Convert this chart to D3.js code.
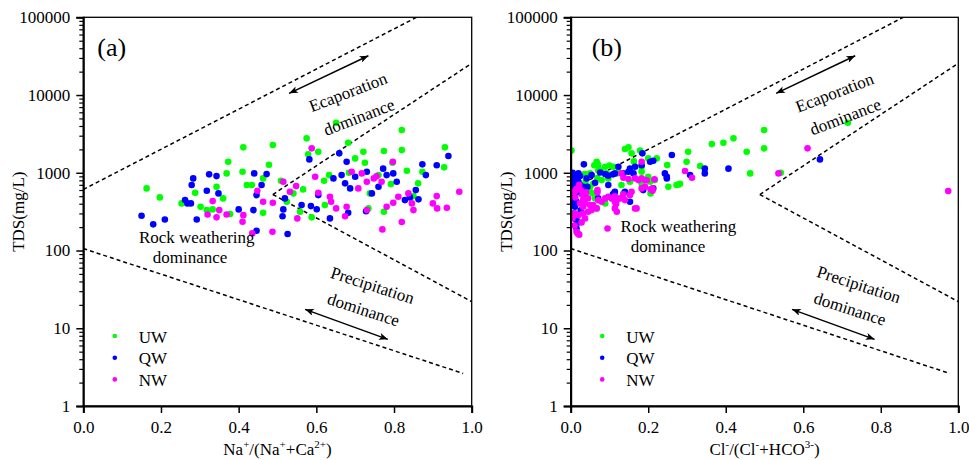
<!DOCTYPE html>
<html><head><meta charset="utf-8">
<script src="https://cdn.jsdelivr.net/npm/d3@7"></script>
<style>
body{margin:0;background:#fff;}
svg text{font-family:"Liberation Serif","Times New Roman",Times,serif;fill:#000;}
</style>
</head><body>
<svg id="chart" width="969" height="460"></svg>
<script>
// ---------- DATA ----------
const tdsTicks = [1, 10, 100, 1000, 10000, 100000];
const ratioTicks = [0, 0.2, 0.4, 0.6, 0.8, 1.0];
const seriesNames = ["UW", "QW", "NW"];
const seriesColors = ["#00ff00", "#0000ff", "#ff00ff"];

// Panel (a): [Na+/(Na++Ca2+), TDS mg/L]
const naUW = [[0.163,630],[0.197,482],[0.253,404],[0.288,553],[0.302,365],[0.318,331],[0.369,982],[0.373,1385],[0.360,468],[0.343,660],[0.333,338],[0.412,2123],[0.410,1030],[0.421,695],[0.378,294],[0.488,2273],[0.575,2773],[0.579,1725],[0.605,1864],[0.651,4400],[0.682,2432],[0.700,1532],[0.721,1864],[0.774,1903],[0.820,3545],[0.820,1959],[0.931,2123],
 [0.478,1268],[0.509,789],[0.541,543],[0.566,611],[0.620,789],[0.633,934],[0.684,1000],[0.725,1345],[0.738,543],[0.760,934],[0.774,315],[0.792,715],[0.796,1345],[0.833,1061],[0.850,501],[0.862,731],[0.873,1030],[0.929,1175],[0.463,847],[0.463,305],[0.434,695],[0.558,315],[0.588,267],[0.622,384],[0.734,348],[0.524,424]];
const naQW = [[0.150,280],[0.180,217],[0.210,251],[0.262,445],[0.268,404],[0.277,404],[0.283,847],[0.279,695],[0.292,251],[0.318,587],[0.324,954],[0.343,907],[0.348,543],[0.400,338],[0.582,1487],[0.659,1777],[0.940,1641],
 [0.440,982],[0.472,962],[0.446,516],[0.459,695],[0.438,331],[0.519,468],[0.513,276],[0.526,163],[0.586,373],[0.605,516],[0.644,847],[0.665,934],[0.674,731],[0.678,1385],[0.687,630],[0.700,888],[0.730,1030],[0.743,543],[0.760,660],[0.772,1130],[0.781,934],[0.798,982],[0.807,766],[0.828,445],[0.856,599],[0.863,455],[0.873,1283],[0.882,934],[0.910,1250],[0.635,259],[0.682,305],[0.728,320],[0.841,482],[0.446,180],[0.562,384],[0.515,338],[0.601,340]];
const naNW = [[0.320,291],[0.333,432],[0.343,267],[0.350,331],[0.369,291],[0.410,234],[0.412,285],[0.588,2061],[0.435,166],
 [0.448,587],[0.463,424],[0.488,411],[0.515,766],[0.532,569],[0.548,674],[0.551,259],[0.487,174],[0.597,888],[0.605,553],[0.638,424],[0.651,348],[0.678,365],[0.674,276],[0.691,1030],[0.708,630],[0.730,766],[0.748,847],[0.768,766],[0.797,1385],[0.798,411],[0.811,491],[0.837,543],[0.846,404],[0.850,331],[0.900,404],[0.910,501],[0.911,348],[0.936,355],[0.968,569],[0.770,187],[0.820,233],[0.730,331],[0.781,365],[0.635,491],[0.717,982],[0.755,900]];

// Panel (b): [Cl-/(Cl-+HCO3-), TDS mg/L]
const clUW = [[0.002,1930],[0.140,2020],[0.149,2123],[0.157,1777],[0.179,1930],[0.163,1400],[0.183,1195],[0.200,1532],[0.183,1030],[0.206,543],[0.119,982],[0.136,543],[0.089,1195],[0.100,1240],[0.110,1195],[0.106,468],[0.089,404],[0.069,847],[0.067,1385],[0.069,1300],[0.050,982],[0.061,1250],[0.078,1080],[0.050,660],[0.058,720],[0.038,760],[0.036,960],[0.003,569],[0.002,300],[0.028,695],[0.024,599],[0.037,660],[0.041,599],[0.050,569],[0.058,543],[0.063,468],[0.067,348],[0.252,660],[0.273,695],[0.282,720],[0.303,1864],[0.299,1385],[0.334,1220],[0.364,2340],[0.394,2432],[0.420,2773],[0.454,1864],[0.463,982],[0.499,3545],[0.499,2061],[0.542,1000],[0.715,4400],[0.071,1255],[0.071,1070],[0.093,982],[0.080,805],[0.097,847],[0.123,1030],[0.131,695],[0.153,766],[0.183,720],[0.200,888],[0.205,766],[0.217,805],[0.222,1532],[0.249,1255],[0.279,709]];
const clQW = [[0.003,934],[0.007,847],[0.011,805],[0.003,735],[0.011,695],[0.015,888],[0.020,982],[0.024,907],[0.020,766],[0.007,599],[0.015,569],[0.011,516],[0.007,468],[0.015,424],[0.011,365],[0.003,404],[0.024,695],[0.032,660],[0.037,468],[0.054,934],[0.041,847],[0.034,1283],[0.043,660],[0.063,744],[0.076,1010],[0.089,962],[0.097,915],[0.109,954],[0.097,695],[0.113,553],[0.109,530],[0.114,569],[0.140,569],[0.153,424],[0.110,516],[0.114,982],[0.136,982],[0.123,1195],[0.149,1030],[0.166,1195],[0.185,1777],[0.205,1385],[0.213,1427],[0.261,1690],[0.243,982],[0.248,888],[0.346,1130],[0.346,982],[0.407,1130],[0.643,1487],[0.153,1130],[0.162,982],[0.187,599],[0.213,630],[0.308,934],[0.011,259],[0.015,246],[0.020,229],[0.015,192],[0.183,1250],[0.248,847],[0.071,468],[0.005,640],[0.018,620],[0.028,540],[0.009,300],[0.026,330],[0.005,1000]];
const clNW = [[0.095,192],[0.018,166],[0.015,174],[0.022,160],[0.011,300],[0.020,285],[0.032,300],[0.037,259],[0.045,315],[0.054,331],[0.032,365],[0.024,404],[0.037,404],[0.050,385],[0.058,385],[0.067,348],[0.071,445],[0.089,468],[0.080,424],[0.106,468],[0.114,424],[0.127,468],[0.140,445],[0.114,348],[0.166,348],[0.153,516],[0.183,630],[0.192,660],[0.211,630],[0.211,587],[0.192,805],[0.175,805],[0.166,847],[0.216,823],[0.183,1385],[0.183,847],[0.206,615],[0.196,800],[0.131,982],[0.136,865],[0.149,830],[0.157,569],[0.114,500],[0.119,445],[0.136,530],[0.117,397],[0.119,315],[0.170,348],[0.097,491],[0.069,599],[0.069,560],[0.295,1055],[0.313,865],[0.536,982],[0.611,2061],[0.974,582],[0.008,560],[0.015,620],[0.022,700],[0.030,520],[0.012,480],[0.040,560],[0.045,470],[0.005,260],[0.028,230],[0.010,210],[0.026,599],[0.011,580],[0.032,445]];

// Gibbs boundary lines (same in both panels)
const evapUpperBoundary = [[0, 610], [0.858, 100000]];
const evapLowerBoundary = [[0.488, 525], [1.0, 25600]];
const rockRightBoundary = [[0.488, 525], [1.0, 22]];
const precipBoundary = [[0, 106], [0.978, 2.62]];
const evapArrow = [[0.530, 10520], [0.734, 32060]];
const precipArrow = [[0.571, 17.5], [0.784, 7.2]];

const xTitles = [
  [["Na",0],["+",1],["/(Na",0],["+",1],["+Ca",0],["2+",1],[")",0]],
  [["Cl",0],["-",1],["/(Cl",0],["-",1],["+HCO",0],["3-",1],[")",0]]
];
const panelLabels = ["(a)", "(b)"];

// ---------- LAYOUT ----------
const svg = d3.select("#chart");
const plotTop = 17.3, plotBottom = 406;
const layouts = [{left:83.3, right:471.7}, {left:570.7, right:958.3}];
const panelSeries = [[naUW, naQW, naNW], [clUW, clQW, clNW]];
const annotations = [
  [{t:"Ecaporation", x:0.687, y:9290, a:-21}, {t:"dominance", x:0.715, y:4430, a:-21},
   {t:"Rock weathering", x:0.292, y:124, a:0}, {t:"dominance", x:0.275, y:69, a:0},
   {t:"Precipitation", x:0.740, y:30.3, a:18}, {t:"dominance", x:0.717, y:14.75, a:18}],
  [{t:"Ecaporation", x:0.686, y:9150, a:-21}, {t:"dominance", x:0.714, y:4480, a:-21},
   {t:"Rock weathering", x:0.278, y:174, a:0}, {t:"dominance", x:0.251, y:95, a:0},
   {t:"Precipitation", x:0.739, y:31, a:18}, {t:"dominance", x:0.716, y:15.1, a:18}]
];
const labelPos = [{x:0.036, y:31770}, {x:0.054, y:31770}];

const defs = svg.append("defs");
defs.append("marker").attr("id","ah").attr("viewBox","0 0 10 8")
  .attr("refX",10).attr("refY",4).attr("markerWidth",11).attr("markerHeight",7)
  .attr("markerUnits","userSpaceOnUse").attr("orient","auto-start-reverse")
  .append("path").attr("d","M0,0 L10,4 L0,8 L2.5,4 Z").attr("fill","#000");

layouts.forEach((L, i) => {
  const x = d3.scaleLinear().domain([0, 1]).range([L.left, L.right]);
  const y = d3.scaleLog().domain([1, 100000]).range([plotBottom, plotTop]);
  const g = svg.append("g");
  const clipId = "clip" + i;
  defs.append("clipPath").attr("id", clipId).append("rect")
    .attr("x", L.left).attr("y", plotTop).attr("width", L.right - L.left).attr("height", plotBottom - plotTop);

  const line = d3.line().x(d => x(d[0])).y(d => y(d[1]));
  [evapUpperBoundary, evapLowerBoundary, rockRightBoundary, precipBoundary].forEach(b => {
    g.append("path").attr("d", line(b)).attr("fill","none").attr("stroke","#000")
      .attr("stroke-width",1.5).attr("stroke-dasharray","4,3").attr("clip-path",`url(#${clipId})`);
  });

  [evapArrow, precipArrow].forEach(a => {
    g.append("path").attr("d", line(a)).attr("fill","none").attr("stroke","#000")
      .attr("stroke-width",1.5).attr("marker-start","url(#ah)").attr("marker-end","url(#ah)");
  });

  // points
  panelSeries[i].forEach((s, k) => {
    g.append("g").selectAll("circle").data(s).enter().append("circle")
      .attr("cx", d => x(d[0])).attr("cy", d => y(d[1])).attr("r", 3.3)
      .attr("fill", seriesColors[k]).attr("clip-path",`url(#${clipId})`);
  });

  // annotations
  annotations[i].forEach(a => {
    const px = x(a.x), py = y(a.y);
    g.append("text").attr("x", px).attr("y", py).attr("text-anchor","middle")
      .attr("font-size", 17).attr("transform", `rotate(${a.a},${px},${py})`).text(a.t);
  });

  g.append("text").attr("x", x(labelPos[i].x)).attr("y", y(labelPos[i].y))
    .attr("font-size", 26).text(panelLabels[i]);

  // legend
  seriesNames.forEach((n, k) => {
    const ly = 336 + k * 21.7;
    g.append("circle").attr("cx", L.left + 31.5).attr("cy", ly).attr("r", 2.3).attr("fill", seriesColors[k]);
    g.append("text").attr("x", L.left + 55.5).attr("y", ly + 6.5).attr("font-size", 17).text(n);
  });

  // frame
  g.append("rect").attr("x", L.left).attr("y", plotTop).attr("width", L.right - L.left)
    .attr("height", plotBottom - plotTop).attr("fill","none").attr("stroke","#000").attr("stroke-width",1.3);

  // axes
  const xAxis = d3.axisBottom(x).tickValues(ratioTicks).tickFormat(d3.format(".1f")).tickSize(7).tickPadding(7.5);
  const xg = g.append("g").attr("transform", `translate(0,${plotBottom})`).call(xAxis);
  xg.select(".domain").attr("stroke-width", 2);
  xg.selectAll(".tick line").attr("stroke-width", 1.5);
  xg.selectAll("text").attr("font-size", 17);

  const yAxis = d3.axisLeft(y).tickValues(tdsTicks).tickFormat(d3.format("d")).tickSize(7).tickPadding(6);
  const yg = g.append("g").attr("transform", `translate(${L.left},0)`).call(yAxis);
  yg.select(".domain").attr("stroke-width", 2);
  yg.selectAll(".tick line").attr("stroke-width", 1.5);
  yg.selectAll("text").attr("font-size", 17);

  const minors = [];
  tdsTicks.slice(0, -1).forEach(t => { for (let m = 2; m <= 9; m++) minors.push(t * m); });
  const yMinor = d3.axisLeft(y).tickValues(minors).tickFormat("").tickSize(4);
  const ym = g.append("g").attr("transform", `translate(${L.left},0)`).call(yMinor);
  ym.select(".domain").remove();
  ym.selectAll(".tick line").attr("stroke-width", 1.2);
  ym.selectAll("text").remove();

  // titles
  const cx = (L.left + L.right) / 2;
  const xt = g.append("text").attr("x", cx).attr("y", 455).attr("text-anchor","middle").attr("font-size", 17);
  let prevSup = 0;
  xTitles[i].forEach(([s, sup]) => {
    xt.append("tspan").attr("font-size", sup ? 11 : 17)
      .attr("dy", sup ? -7 : (prevSup ? 7 : 0)).text(s);
    prevSup = sup;
  });
  const cy = (plotTop + plotBottom) / 2;
  g.append("text").attr("transform", `translate(${L.left - 59},${cy}) rotate(-90)`)
    .attr("text-anchor","middle").attr("font-size", 17).text("TDS(mg/L)");
});
</script>
</body></html>
